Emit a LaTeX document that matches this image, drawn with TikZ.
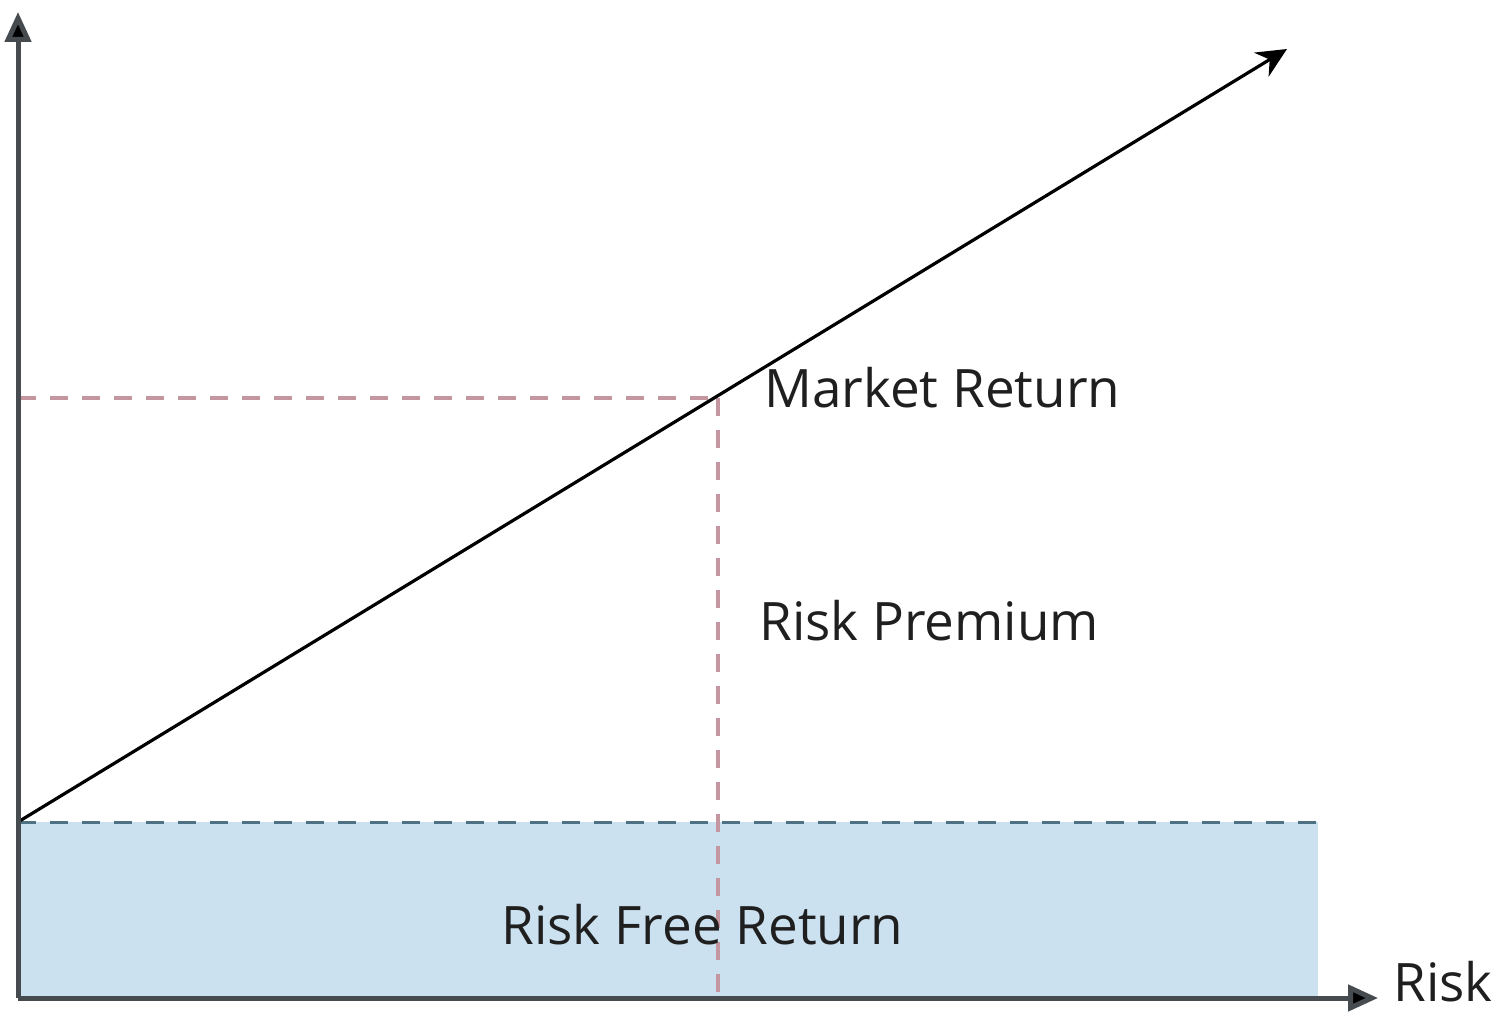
\documentclass[tikz,border=0pt]{standalone}
\usepackage{fontspec}
\setmainfont{Open Sans}
\usetikzlibrary{arrows.meta}
\definecolor{rfblue}{RGB}{204,225,239}
\definecolor{rfline}{RGB}{80,112,132}
\definecolor{mkline}{RGB}{196,150,160}
\definecolor{axisgray}{RGB}{70,75,80}
\tikzset{
  axis/.style={draw=axisgray, line width=2.5pt, -{Triangle[length=15pt,width=13pt,fill=black]}},
  sml/.style={draw=black, line width=1.6pt, -{Stealth[length=15pt,width=14pt]}},
  guide/.style={draw=mkline, line width=1.8pt, dash pattern=on 9pt off 7pt},
  rfguide/.style={draw=rfline, line width=1.5pt, dash pattern=on 9pt off 7pt},
  lbl/.style={font=\fontsize{26.5}{31}\selectfont, text=black!88, inner sep=0pt},
}
\begin{document}
\begin{tikzpicture}[x=0.5pt,y=-0.5pt]
\useasboundingbox (0,0) rectangle (1499,1016);
\fill[rfblue] (18,822) rectangle (1318,997);
\coordinate (O) at (18,998);
\coordinate (Ytop) at (18,12);
\coordinate (Xend) at (1378,998);
\coordinate (RF) at (18,822);
\coordinate (RFend) at (1318,822);
\coordinate (MY) at (18,398);
\coordinate (M) at (718,398);
\coordinate (MX) at (718,998);
\coordinate (Send) at (1287,49);
\draw[guide] (MY) -- (M);
\draw[guide] (M) -- (MX);
\draw[rfguide] (RF) -- (RFend);
\draw[sml] (RF) -- (Send);
\draw[axis] (O) -- (Ytop);
\draw[axis] (O) -- (Xend);
\node[lbl, anchor=west] (mr) at (764,388) {Market Return};
\node[lbl, anchor=west] (rp) at (759,621) {Risk Premium};
\node[lbl, anchor=west] (rfr) at (501,925) {Risk Free Return};
\node[lbl, anchor=west] (rk) at (1393,982) {Risk};
\end{tikzpicture}
\end{document}
